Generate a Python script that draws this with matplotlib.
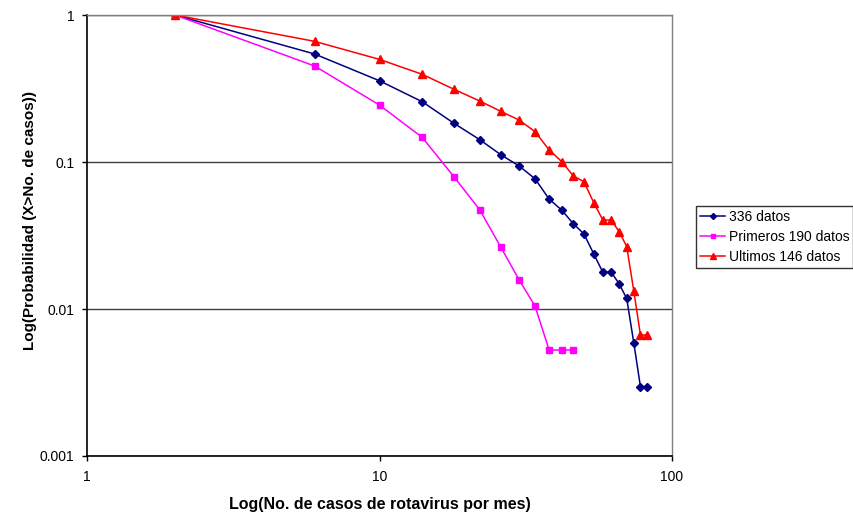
import matplotlib
matplotlib.use("Agg")
import matplotlib.pyplot as plt
from matplotlib.ticker import FixedLocator, FixedFormatter, NullLocator

plt.rcParams['font.family'] = ['Liberation Sans', 'DejaVu Sans']

# casos por mes (centro de cada intervalo)
x_todos = [2, 6, 10, 14, 18, 22, 26, 30, 34, 38, 42, 46, 50, 54, 58, 62, 66, 70, 74, 78, 82]
p_todos = [1.0, 0.543, 0.357, 0.257, 0.183, 0.142, 0.112, 0.094, 0.077, 0.056, 0.047,
           0.038, 0.0324, 0.0237, 0.0178, 0.0178, 0.0148, 0.0118, 0.0059, 0.00296, 0.00296]

x_primeros = [2, 6, 10, 14, 18, 22, 26, 30, 34, 38, 42, 46]
p_primeros = [1.0, 0.450, 0.244, 0.147, 0.079, 0.0474, 0.0263, 0.0158, 0.0105,
              0.00526, 0.00526, 0.00526]

x_ultimos = [2, 6, 10, 14, 18, 22, 26, 30, 34, 38, 42, 46, 50, 54, 58, 62, 66, 70, 74, 78, 82]
p_ultimos = [1.0, 0.662, 0.499, 0.395, 0.312, 0.260, 0.221, 0.193, 0.161, 0.121, 0.1005,
             0.0803, 0.0734, 0.0529, 0.0403, 0.0403, 0.0335, 0.0266, 0.0133, 0.00665, 0.00665]

etiquetas = ["336 datos", "Primeros 190 datos", "Ultimos 146 datos"]

fig = plt.figure(figsize=(8.54, 5.18), dpi=100)
ax = fig.add_axes([0.1019, 0.1197, 0.685, 0.8513])

ax.plot(x_todos, p_todos, color='#000080', marker='D', markersize=3.8, lw=1.1, label=etiquetas[0])
ax.plot(x_primeros, p_primeros, color='#FF00FF', marker='s', markersize=4.4, lw=1.1, label=etiquetas[1])
ax.plot(x_ultimos, p_ultimos, color='#FF0000', marker='^', markersize=5.2, lw=1.1, label=etiquetas[2])

ax.set_xscale('log')
ax.set_yscale('log')
ax.set_xlim(1, 100)
ax.set_ylim(0.001, 1)

ax.xaxis.set_major_locator(FixedLocator([1, 10, 100]))
ax.xaxis.set_major_formatter(FixedFormatter(['1', '10', '100']))
ax.yaxis.set_major_locator(FixedLocator([0.001, 0.01, 0.1, 1]))
ax.yaxis.set_major_formatter(FixedFormatter(['0.001', '0.01', '0.1', '1']))
ax.xaxis.set_minor_locator(NullLocator())
ax.yaxis.set_minor_locator(NullLocator())

ax.yaxis.grid(True, color='#404040', lw=1)
ax.set_axisbelow(True)
ax.tick_params(labelsize=10, length=3.6, width=1, direction='out')
ax.tick_params(axis='x', pad=6.5)
ax.tick_params(axis='y', pad=5.5)

for s in ['left', 'bottom']:
    ax.spines[s].set_color('black')
    ax.spines[s].set_linewidth(1.2)
for s in ['top', 'right']:
    ax.spines[s].set_color('#808080')
    ax.spines[s].set_linewidth(1)

ax.set_xlabel('Log(No. de casos de rotavirus por mes)', fontsize=11.5, fontweight='bold', labelpad=9)
ax.set_ylabel('Log(Probabilidad (X>No. de casos))', fontsize=11, fontweight='bold')
ax.yaxis.set_label_coords(-0.086, 0.535)

leg = fig.legend(loc='upper left', bbox_to_anchor=(696 / 854, 1 - 206 / 518), fontsize=10,
                 frameon=True, fancybox=False, edgecolor='black', borderpad=0.3,
                 labelspacing=0.42, handlelength=1.8, handletextpad=0.25, borderaxespad=0,
                 markerscale=0.8)
leg.get_frame().set_linewidth(1)

fig.savefig('out.png', dpi=100)
